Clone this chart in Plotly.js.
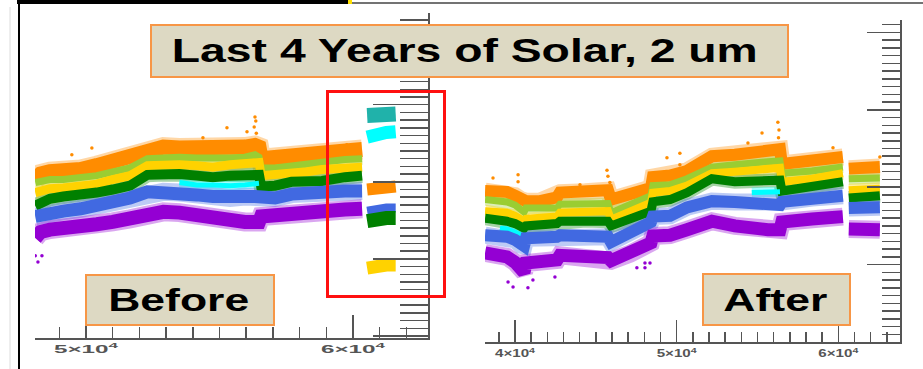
<!DOCTYPE html>
<html>
<head>
<meta charset="utf-8">
<script src="https://cdn.plot.ly/plotly-3.0.1.min.js"></script>
<style>
  html, body { margin: 0; padding: 0; background: #ffffff; }
  #chart { width: 923px; height: 369px; }
</style>
</head>
<body>
<div id="chart"></div>
<script>
// ---------- DATA: "Before" panel ----------
const xBefore = [48100, 48300, 48650, 49150, 49800, 50400, 51000, 51650, 52300, 52900, 53500, 54150, 54750, 55400, 55950, 56330, 56480, 56560, 57080, 57700, 58280, 58840, 59700, 60340];
const orangeBefore = [20.3, 21.0, 21.3, 21.3, 21.6, 22.1, 22.7, 23.4, 24.4, 24.5, 24.4, 24.3, 24.2, 24.4, 24.5, 24.7, 24.5, 23.0, 23.1, 23.4, 23.5, 23.6, 23.9, 24.2];
const yellowGreenBefore = [19.9, 20.1, 20.3, 20.3, 20.5, 20.8, 21.3, 21.8, 23.0, 23.2, 23.2, 23.1, 23.0, 23.1, 23.2, 23.5, 23.2, 21.8, 21.8, 22.1, 22.2, 22.5, 22.9, 23.0];
const goldBefore = [18.6, 18.8, 19.1, 19.2, 19.5, 19.7, 20.3, 20.8, 22.1, 22.2, 22.2, 22.1, 21.9, 22.2, 22.5, 22.6, 22.5, 20.8, 20.9, 21.2, 21.3, 21.6, 21.9, 21.9];
const greenBefore = [16.9, 17.3, 17.8, 18.1, 18.3, 18.6, 19.0, 19.5, 20.9, 21.0, 21.0, 20.8, 20.6, 20.8, 20.8, 20.9, 20.9, 19.4, 19.5, 20.0, 20.0, 20.1, 20.6, 20.8];
const cyanBefore = [null, null, null, null, null, null, null, null, null, null, 19.9, 19.6, 19.6, 19.5, 19.6, 19.8, 19.8, null, null, null, null, null, null, null];
const blueBefore = [15.5, 15.7, 16.0, 16.2, 16.5, 16.9, 17.4, 17.9, 18.7, 18.7, 18.6, 18.3, 18.1, 17.9, 18.1, 18.1, 18.1, 17.7, 17.9, 18.4, 18.6, 18.7, 18.8, 18.8];
const violetBefore = [12.7, 13.5, 13.8, 13.9, 14.2, 14.5, 14.8, 15.2, 15.8, 16.1, 16.0, 15.6, 15.1, 14.7, 14.8, 14.8, 14.8, 15.5, 15.7, 16.0, 16.1, 16.2, 16.4, 16.5];

// detached group inside the red box
const xCluster = [60530, 60900, 61250, 61600];
const tealCluster = [28.6, 28.8, 28.9, 28.8];
const cyanCluster = [25.8, 26.2, 26.4, 26.5];
const orangeCluster = [19.0, 19.2, 19.4, 19.4];
const blueCluster = [16.2, 16.5, 16.6, 16.6];
const greenCluster = [14.9, 15.2, 15.3, 15.3];
const goldCluster = [8.8, 9.1, 9.2, 9.2];

// scattered points
const xOrangeDotsBefore = [49470, 50220, 54380, 55280, 56030, 59770, 56330, 56380, 56300, 56360, 56330];
const yOrangeDotsBefore = [23.5, 24.4, 25.7, 27.0, 26.5, 24.8, 25.5, 26.3, 27.1, 27.9, 28.4];
const xVioletDotsBefore = [48100, 48200, 48350];
const yVioletDotsBefore = [10.4, 9.6, 10.4];

// ---------- DATA: "After" panel ----------
const xAfter = [38150, 39070, 39500, 40000, 40370, 40560, 40680, 41550, 42600, 42780, 44330, 45750, 45940, 47110, 48410, 48530, 49590, 50640, 52180, 53600, 54650, 55640, 56390, 56510, 58370, 60280, 60460, 60650, 61640, 62570];
const orangeAfter = [19.5, 19.4, 19.4, 18.9, 18.4, 18.2, 18.2, 18.2, 18.7, 19.3, 19.4, 19.6, 18.4, 19.1, 19.9, 21.3, 21.5, 22.1, 24.0, 24.2, 24.4, 24.7, 24.9, 23.0, 23.3, 23.9, null, 22.4, 22.5, 22.6];
const yellowGreenAfter = [18.4, 18.2, 18.1, 17.7, 17.1, 16.8, 17.3, 17.3, 17.3, 17.8, 17.8, 17.9, 16.7, 17.7, 18.9, 20.2, 20.3, 21.1, 22.6, 22.9, 23.0, 23.3, 23.4, 21.8, 22.1, 22.6, null, 21.1, 21.2, 21.2];
const goldAfter = [16.9, 16.8, 16.7, 16.3, 15.8, 15.6, 15.9, 16.0, 16.2, 16.7, 16.8, 16.9, 15.8, 16.8, 18.0, 19.3, 19.5, 20.2, 21.8, 22.0, 22.1, 22.4, 22.5, 20.7, 21.1, 21.8, null, 19.6, 19.8, 19.8];
const greenAfter = [16.0, 15.8, 15.6, 15.3, 14.9, 14.7, 15.0, 15.1, 15.3, 15.6, 15.7, 15.6, 15.0, 15.8, 16.9, 18.1, 18.4, 19.3, 21.1, 20.7, 20.8, 20.8, 20.9, 19.5, 20.2, 20.7, null, 18.6, 18.7, 18.9];
const cyanAfter = [null, 14.7, 14.6, 14.2, 13.7, 13.6, null, null, null, null, null, null, null, null, null, null, null, null, null, null, 19.3, 19.3, 19.4, null, null, null, null, null, null, null];
const blueAfter = [13.8, 13.7, 13.6, 13.2, 12.5, 12.4, 13.4, 13.4, 13.6, 13.8, 13.7, 13.6, 12.9, 14.0, 15.5, 16.2, 16.3, 17.4, 18.2, 18.1, 18.0, 17.8, 17.7, 18.1, 18.6, 18.9, null, 17.3, 17.4, 17.4];
const violetAfter = [11.5, 11.2, 11.0, 10.3, 9.6, 9.0, 10.2, 10.3, 10.6, 11.2, 11.1, 10.9, 10.5, 11.4, 12.8, 13.7, 13.8, 14.5, 15.6, 15.0, 14.6, 14.5, 14.5, 15.5, 15.9, 16.2, null, 14.6, 14.5, 14.5];

const xOrangeDotsAfter = [38640, 40190, 40190, 45690, 45750, 45870, 44020, 49400, 50200, 50200, 56260, 56330, 56300, 56360, 55280, 54410, 59670, 62570];
const yOrangeDotsAfter = [21.2, 21.6, 20.7, 22.2, 21.4, 20.6, 20.3, 23.8, 22.9, 24.4, 28.4, 27.4, 26.4, 25.4, 27.0, 25.7, 25.1, 23.9];
const xVioletDotsAfter = [39570, 39880, 40800, 41110, 42470, 47540, 48040, 48040, 48350];
const yVioletDotsAfter = [7.75, 7.1, 7.0, 8.0, 8.4, 9.6, 10.2, 9.6, 10.2];

// ---------- tick labels ----------
const xTickValsBefore = [50000, 60000];
const xTickTextBefore = ['5×10<sup>4</sup>', '6×10<sup>4</sup>'];
const xTickValsAfter = [40000, 50000, 60000];
const xTickTextAfter = ['4×10<sup>4</sup>', '5×10<sup>4</sup>', '6×10<sup>4</sup>'];

// ---------- texts ----------
const titleText = 'Last 4 Years of Solar, 2 um';
const beforeText = 'Before';
const afterText = 'After';

// ---------- styling ----------
const C = {
  orange: '#ff8c00', yg: '#9acd32', gold: '#ffd200', green: '#008000',
  cyan: '#00ffff', blue: '#4169e1', violet: '#9400d3', teal: '#20b2aa'
};
const W = 923, H = 369;
const px = v => v / W;
const py = v => 1 - v / H;

function band(x, y, color, width, xa, ya, op) {
  return { x: x, y: y, type: 'scatter', mode: 'lines', xaxis: xa, yaxis: ya, opacity: op || 1,
    line: { color: color, width: width, shape: 'linear' }, connectgaps: false, hoverinfo: 'skip' };
}
function dots(x, y, color, xa, ya) {
  return { x: x, y: y, type: 'scatter', mode: 'markers', xaxis: xa, yaxis: ya,
    marker: { color: color, size: 3.5 }, hoverinfo: 'skip' };
}

// [values, colour, width] for the main bands, drawn top band first
const beforeBands = [
  [orangeBefore, C.orange, 15], [yellowGreenBefore, C.yg, 7], [goldBefore, C.gold, 9],
  [greenBefore, C.green, 10], [cyanBefore, C.cyan, 5], [blueBefore, C.blue, 13], [violetBefore, C.violet, 14]
];
const afterBands = [
  [orangeAfter, C.orange, 12], [yellowGreenAfter, C.yg, 7], [goldAfter, C.gold, 8],
  [greenAfter, C.green, 9], [cyanAfter, C.cyan, 5], [blueAfter, C.blue, 12], [violetAfter, C.violet, 13]
];

const traces = [];
// soft, speckled halo around every band
beforeBands.forEach(b => traces.push(band(xBefore, b[0], b[1], b[2] + 5, 'x', 'y', 0.35)));
afterBands.forEach(b => traces.push(band(xAfter, b[0], b[1], b[2] + 5, 'x2', 'y2', 0.35)));
beforeBands.forEach(b => traces.push(band(xBefore, b[0], b[1], b[2], 'x', 'y')));
afterBands.forEach(b => traces.push(band(xAfter, b[0], b[1], b[2], 'x2', 'y2')));
traces.push(
  band(xCluster, tealCluster, C.teal, 15, 'x', 'y'),
  band(xCluster, cyanCluster, C.cyan, 13, 'x', 'y'),
  band(xCluster, orangeCluster, C.orange, 12, 'x', 'y'),
  band(xCluster, blueCluster, C.blue, 9, 'x', 'y'),
  band(xCluster, greenCluster, C.green, 14, 'x', 'y'),
  band(xCluster, goldCluster, C.gold, 13, 'x', 'y'),
  dots(xOrangeDotsBefore, yOrangeDotsBefore, C.orange, 'x', 'y'),
  dots(xVioletDotsBefore, yVioletDotsBefore, C.violet, 'x', 'y'),
  dots(xOrangeDotsAfter, yOrangeDotsAfter, C.orange, 'x2', 'y2'),
  dots(xVioletDotsAfter, yVioletDotsAfter, C.violet, 'x2', 'y2')
);

const axCol = '#555555';
const tickFont = { family: 'Liberation Sans, Arial, sans-serif', size: 11, color: '#555555', weight: 'bold' };

function xAxis(domain, range, vals, text, ylab) {
  return {
    domain: domain, range: range, anchor: ylab, tickmode: 'array', tickvals: vals, ticktext: text,
    ticks: 'inside', ticklen: 23, tickwidth: 1.5, tickcolor: axCol,
    showline: true, linecolor: axCol, linewidth: 2, showgrid: false, zeroline: false,
    tickfont: tickFont, fixedrange: true,
    minor: { tickmode: 'linear', tick0: 0, dtick: 1000, ticks: 'inside', ticklen: 11, tickwidth: 1.5, tickcolor: axCol, showgrid: false }
  };
}
function yAxis(domain, range, xlab, majLen, minLen) {
  return {
    domain: domain, range: range, anchor: xlab, side: 'right', tickmode: 'linear', tick0: 0, dtick: 10,
    ticks: 'inside', ticklen: majLen, tickwidth: 1.5, tickcolor: axCol, showticklabels: false,
    showline: true, linecolor: axCol, linewidth: 2, showgrid: false, zeroline: false, fixedrange: true,
    minor: { tickmode: 'linear', tick0: 0, dtick: 1, ticks: 'inside', ticklen: minLen, tickwidth: 1.5, tickcolor: axCol, showgrid: false }
  };
}

const boxFill = '#ddd9c3', boxLine = '#f79646';
const shapes = [
  // slide frame
  { type: 'rect', xref: 'paper', yref: 'paper', x0: px(17), x1: px(352), y0: py(4), y1: py(0), fillcolor: '#000000', line: { width: 0 } },
  { type: 'rect', xref: 'paper', yref: 'paper', x0: px(348), x1: px(352), y0: py(4), y1: py(0), fillcolor: '#ffe000', line: { width: 0 } },
  { type: 'line', xref: 'paper', yref: 'paper', x0: px(352), x1: px(923), y0: py(3), y1: py(3), line: { color: '#444444', width: 1.5 } },
  { type: 'line', xref: 'paper', yref: 'paper', x0: px(19), x1: px(19), y0: py(3), y1: py(369), line: { color: '#000000', width: 2 } },
  { type: 'line', xref: 'paper', yref: 'paper', x0: px(10), x1: px(10), y0: py(7), y1: py(369), line: { color: '#eeeeee', width: 2 } },
  // text boxes
  { type: 'rect', xref: 'paper', yref: 'paper', x0: px(151), x1: px(788), y0: py(77), y1: py(25), fillcolor: boxFill, line: { color: boxLine, width: 2 } },
  { type: 'rect', xref: 'paper', yref: 'paper', x0: px(86), x1: px(274), y0: py(325), y1: py(275), fillcolor: boxFill, line: { color: boxLine, width: 2 } },
  { type: 'rect', xref: 'paper', yref: 'paper', x0: px(703), x1: px(850), y0: py(325), y1: py(274), fillcolor: boxFill, line: { color: boxLine, width: 2 } },
  // red highlight
  { type: 'rect', xref: 'paper', yref: 'paper', x0: px(327.5), x1: px(444.5), y0: py(296.5), y1: py(91.5), fillcolor: 'rgba(0,0,0,0)', line: { color: '#ff1010', width: 3 } }
];

const bigFont = (s) => ({ family: 'Liberation Sans, Arial, sans-serif', size: s, color: '#000000', weight: 'bold' });
const annotations = [
  { text: titleText, xref: 'paper', yref: 'paper', x: px(465), y: py(51), xanchor: 'center', yanchor: 'middle', showarrow: false, font: bigFont(33) },
  { text: beforeText, xref: 'paper', yref: 'paper', x: px(178.5), y: py(300), xanchor: 'center', yanchor: 'middle', showarrow: false, font: bigFont(32) },
  { text: afterText, xref: 'paper', yref: 'paper', x: px(775), y: py(300), xanchor: 'center', yanchor: 'middle', showarrow: false, font: bigFont(32) }
];
const annotationStretch = [586, 141, 104];

const layout = {
  width: W, height: H, margin: { l: 0, r: 0, t: 0, b: 0 },
  paper_bgcolor: '#ffffff', plot_bgcolor: 'rgba(0,0,0,0)', showlegend: false,
  xaxis: xAxis([px(35), px(428)], [48090, 62810], xTickValsBefore, xTickTextBefore, 'y'),
  yaxis: yAxis([(H - 337.5) / H, (H - 13) / H], [-0.2, 41.9], 'x', 55, 28),
  xaxis2: xAxis([px(485), px(900)], [38145, 63816], xTickValsAfter, xTickTextAfter, 'y2'),
  yaxis2: yAxis([(H - 342) / H, (H - 20) / H], [0, 41.6], 'x2', 33, 18),
  shapes: shapes, annotations: annotations
};
layout.xaxis2.ticklen = 22; layout.xaxis2.minor.ticklen = 10;

function stretchTexts(gd) {
  gd.querySelectorAll('g.annotation').forEach(function (g) {
    const i = +g.getAttribute('data-index');
    const t = g.querySelector('text.annotation-text');
    if (t && annotationStretch[i]) {
      t.setAttribute('textLength', annotationStretch[i]);
      t.setAttribute('lengthAdjust', 'spacingAndGlyphs');
    }
  });
  gd.querySelectorAll('g.xtick text').forEach(function (t) {
    t.setAttribute('textLength', 64); t.setAttribute('lengthAdjust', 'spacingAndGlyphs');
  });
  gd.querySelectorAll('g.x2tick text').forEach(function (t) {
    t.setAttribute('textLength', 40); t.setAttribute('lengthAdjust', 'spacingAndGlyphs');
  });
}

Plotly.newPlot('chart', traces, layout, { staticPlot: true, displayModeBar: false }).then(function (gd) {
  stretchTexts(gd);
  setTimeout(function () { stretchTexts(gd); }, 50);
});
</script>
</body>
</html>
